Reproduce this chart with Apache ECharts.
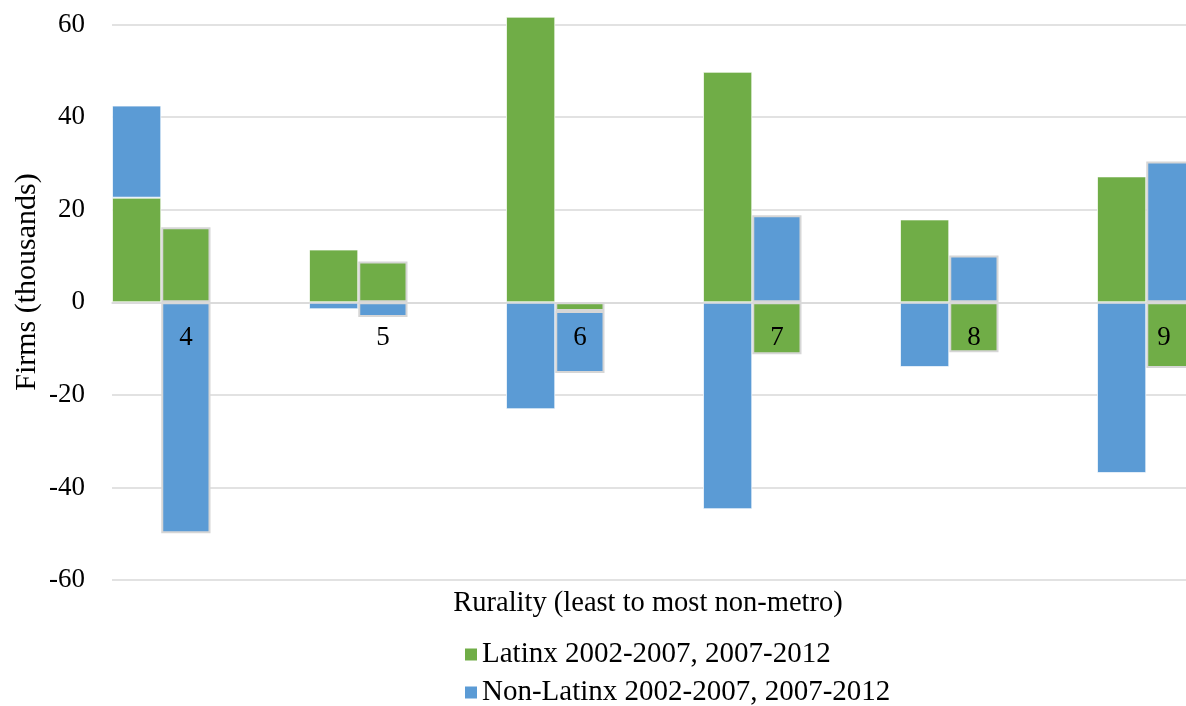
<!DOCTYPE html>
<html>
<head>
<meta charset="utf-8">
<title>Firm change by rurality</title>
<script src="https://cdn.jsdelivr.net/npm/echarts@6/dist/echarts.min.js"></script>
<style>
  html, body { margin: 0; padding: 0; background: #fff; }
  #chart { width: 1186px; height: 706px; }
</style>
</head>
<body>
<div id="chart"></div>
<script>
// Rurality codes (least to most non-metro)
const rurality = ['4', '5', '6', '7', '8', '9'];

// Change in number of firms (thousands), first bar 2002-2007, second bar 2007-2012
const latinx0207    = [22.6, 11.4, 61.7, 49.8, 17.9, 27.2];
const latinx0712    = [16.2, 8.8, -1.9, -11.2, -10.8, -14.2];
const nonLatinx0207 = [19.9, -1.5, -23.1, -44.7, -14.0, -36.9];
const nonLatinx0712 = [-49.9, -3.2, -13.4, 18.8, 10.1, 30.4];

const seriesNames = ['Latinx 2002-2007, 2007-2012', 'Non-Latinx 2002-2007, 2007-2012'];
const yTickValues = [-60, -40, -20, 0, 20, 40, 60];

const GREEN = '#70AD47';
const BLUE = '#5B9BD5';
const FONT = '"Liberation Serif", "Times New Roman", serif';

// Plot geometry (value axis runs -60..80, the top band sits above the visible area)
const Y_MIN = -60, Y_MAX = 80;
const GRID_TOP = -68, GRID_BOTTOM_Y = 580;
const zeroOffset = (GRID_BOTTOM_Y - GRID_TOP) * (0 - Y_MIN) / (Y_MAX - Y_MIN);

// Each rurality group occupies four slots: two bars followed by two empty slots
const SLOTS = 4;
const slotLabels = [];
const latinxSlots = [];
const nonLatinxSlots = [];
const firstStyle = { borderColor: 'rgba(255,255,255,0.7)', borderWidth: 1 };
const secondStyle = { borderColor: '#d6d6d6', borderWidth: 2 };

rurality.forEach((code, i) => {
  const isLast = i === rurality.length - 1;
  for (let s = 0; s < (isLast ? 2 : SLOTS); s++) {
    if (s === 1) {
      // the last label is nudged left, its slot runs past the right edge
      slotLabels.push(isLast ? { value: code, textStyle: { padding: [0, 14, 0, 0] } } : code);
    } else {
      slotLabels.push('');
    }
    if (s === 0) {
      latinxSlots.push({ value: latinx0207[i], itemStyle: firstStyle });
      nonLatinxSlots.push({ value: nonLatinx0207[i], itemStyle: firstStyle });
    } else if (s === 1) {
      latinxSlots.push({ value: latinx0712[i], itemStyle: secondStyle });
      nonLatinxSlots.push({ value: nonLatinx0712[i], itemStyle: secondStyle });
    } else {
      latinxSlots.push(null);
      nonLatinxSlots.push(null);
    }
  }
});

const chart = echarts.init(document.getElementById('chart'), null, { renderer: 'canvas' });

chart.setOption({
  animation: false,
  backgroundColor: '#ffffff',
  textStyle: { fontFamily: FONT, color: '#000' },
  grid: {
    left: 112,
    right: -9.5,
    top: GRID_TOP,
    bottom: 706 - GRID_BOTTOM_Y,
    containLabel: false,
    outerBoundsMode: 'none'
  },
  legend: {
    data: seriesNames,
    orient: 'vertical',
    left: 465,
    top: 640,
    height: 90,
    padding: 0,
    icon: 'rect',
    itemWidth: 12,
    itemHeight: 12,
    itemGap: 9,
    textStyle: { fontFamily: FONT, fontSize: 29, lineHeight: 29, color: '#000' },
    selectedMode: false
  },
  xAxis: {
    type: 'category',
    data: slotLabels,
    z: 10,
    // category axis sits on the zero line
    offset: -zeroOffset,
    axisLine: { onZero: false, lineStyle: { color: '#d9d9d9', width: 1.5 } },
    axisTick: { show: false },
    axisLabel: {
      interval: 0,
      margin: 22,
      fontFamily: FONT,
      fontSize: 27,
      color: '#000'
    },
    splitLine: { show: false }
  },
  yAxis: {
    type: 'value',
    min: Y_MIN,
    max: Y_MAX,
    interval: 20,
    axisLine: { show: false },
    axisTick: { show: false },
    axisLabel: {
      margin: 27,
      fontFamily: FONT,
      fontSize: 27,
      color: '#000',
      formatter: v => (yTickValues.indexOf(v) >= 0 ? String(v) : '')
    },
    splitLine: { lineStyle: { color: '#d9d9d9', width: 1.5 } }
  },
  graphic: [
    {
      type: 'text',
      x: 27,
      y: 282,
      rotation: Math.PI / 2,
      style: {
        text: 'Firms (thousands)',
        font: '30px ' + FONT,
        fill: '#000',
        textAlign: 'center',
        textVerticalAlign: 'middle'
      }
    },
    {
      type: 'text',
      x: 648,
      y: 604,
      style: {
        text: 'Rurality (least to most non-metro)',
        font: '28.5px ' + FONT,
        fill: '#000',
        textAlign: 'center',
        textVerticalAlign: 'middle'
      }
    }
  ],
  series: [
    {
      name: seriesNames[0],
      type: 'bar',
      stack: 'firms',
      barCategoryGap: '0%',
      itemStyle: { color: GREEN },
      data: latinxSlots
    },
    {
      name: seriesNames[1],
      type: 'bar',
      stack: 'firms',
      barCategoryGap: '0%',
      itemStyle: { color: BLUE },
      data: nonLatinxSlots
    }
  ]
});
</script>
</body>
</html>
